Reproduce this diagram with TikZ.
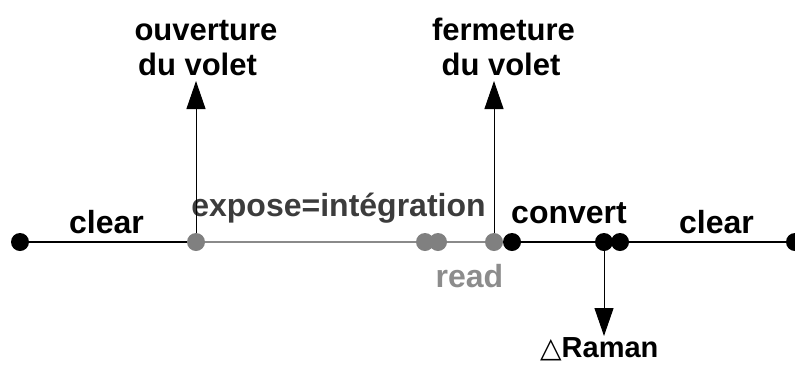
\documentclass[tikz,border=0pt]{standalone}
\usepackage{fontspec}
\setmainfont{Liberation Sans}
\newfontfamily\symfont{DejaVu Sans}
\usetikzlibrary{arrows.meta}
\definecolor{dotgray}{HTML}{808080}
\definecolor{linegray}{HTML}{8A8A8A}
\definecolor{darktext}{HTML}{3C3C3C}
\definecolor{lighttext}{HTML}{8C8C8C}
\begin{document}
\begin{tikzpicture}[x=1pt,y=-1pt,
  dot/.style={circle, inner sep=0pt, minimum size=18pt},
  blackdot/.style={dot, fill=black},
  graydot/.style={dot, fill=dotgray},
  lbl/.style={font=\fontsize{32}{38}\selectfont\bfseries, inner sep=0pt, anchor=base},
  toplbl/.style={font=\fontsize{31}{36}\selectfont\bfseries, inner sep=0pt, anchor=base},
  blackline/.style={draw=black, line width=1.5pt},
  grayline/.style={draw=linegray, line width=1.5pt},
  arr/.style={-{Triangle[length=28pt,width=19pt]}, line width=1pt},
]
\useasboundingbox (0,0) rectangle (795,365);
% dots
\node[blackdot] (a) at (20,242) {};
\node[graydot] (b) at (196,242) {};
\node[graydot] (c1) at (425,242) {};
\node[graydot] (c2) at (438,242) {};
\node[graydot] (d) at (494,242) {};
\node[blackdot] (e) at (512,242) {};
\node[blackdot] (f) at (604,242) {};
\node[blackdot] (g) at (620,242) {};
\node[blackdot] (h) at (795,242) {};
% lines
\draw[blackline] (a) -- (b);
\draw[grayline] (b) -- (c1);
\draw[grayline] (c2) -- (d);
\draw[blackline] (e) -- (f);
\draw[blackline] (g) -- (h);
% labels
\node[lbl] (clear1) at (106.5,233) {clear};
\node[lbl, text=darktext] (expose) at (338.5,216) {expose=intégration};
\node[lbl, text=lighttext] (read) at (469.5,287) {read};
\node[lbl] (convert) at (569,223) {convert};
\node[lbl] (clear2) at (716.5,233) {clear};
\node[toplbl] (ouv1) at (206,40) {ouverture};
\node[toplbl] (ouv2) at (197.5,75) {du volet};
\node[toplbl] (ferm1) at (503.5,40) {fermeture};
\node[toplbl] (ferm2) at (501,75) {du volet};
\node[inner sep=0pt, anchor=base west, font=\fontsize{29}{34}\selectfont] (ram) at (540,357) {{\symfont\fontsize{28}{32}\selectfont △}\bfseries Raman};
% arrows
\coordinate (t1) at (196,81);
\coordinate (t2) at (494,81);
\coordinate (t3) at (604,336);
\draw[arr] (b) -- (t1);
\draw[arr] (d) -- (t2);
\draw[arr] (f) -- (t3);
\end{tikzpicture}
\end{document}
